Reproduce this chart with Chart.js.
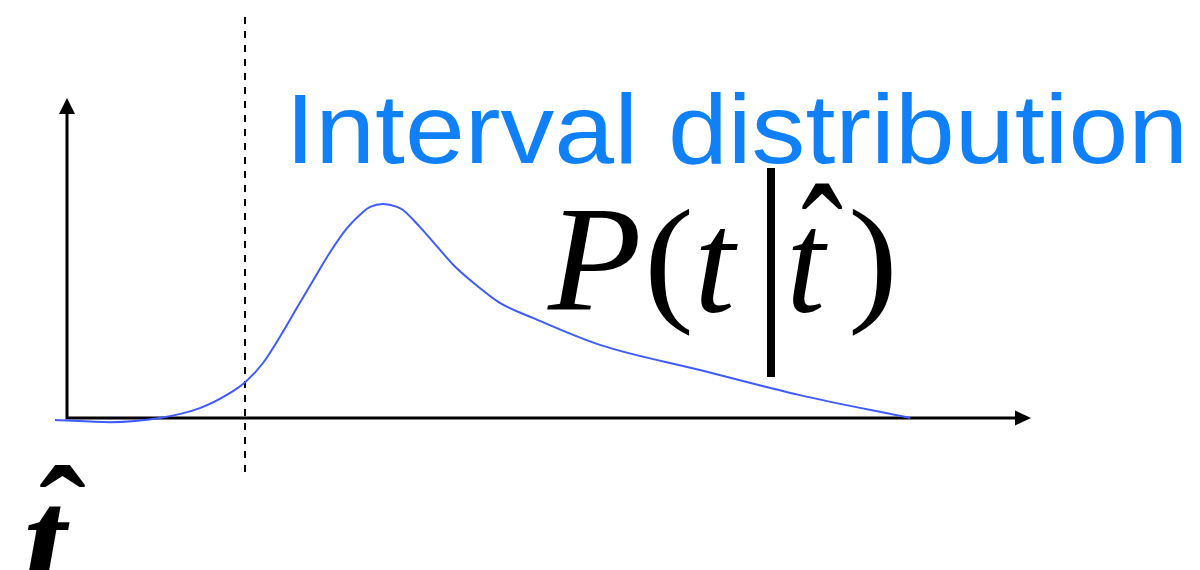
<!DOCTYPE html>
<html>
<head>
<meta charset="utf-8">
<title>Interval distribution</title>
<script src="https://cdn.jsdelivr.net/npm/chart.js@4.4.1/dist/chart.umd.min.js"></script>
<style>
  html, body { margin: 0; padding: 0; background: #fff; }
  canvas { display: block; }
</style>
</head>
<body>
<canvas id="intervalChart" width="1200" height="570"></canvas>
<script>
// time since last spike (x) and interval density P(t|t^) (y)
const timeValues = [-1.5, 5.4, 11.6, 16.6, 20.4, 22.3, 24.5, 26.6, 28.8, 30.8, 32.9, 35.0, 37.0, 37.9, 39.5,
                    41.25, 42.0, 44.1, 46.3, 48.3, 50.8, 54.1, 58.3, 66.6, 79.1, 91.6, 105.4];
const densityValues = [-0.006, -0.013, 0, 0.031, 0.079, 0.113, 0.173, 0.255, 0.349, 0.434, 0.522, 0.597, 0.648, 0.664, 0.673,
                       0.664, 0.654, 0.601, 0.538, 0.481, 0.425, 0.362, 0.314, 0.230, 0.151, 0.072, 0];
const lastSpike = 22.25;   // dashed marker (t hat)
const titleText = 'Interval distribution';

const curve = timeValues.map((t, i) => ({ x: t, y: densityValues[i] }));

// put a string's ink box into a rectangle (h omitted -> keep aspect)
function inkText(ctx, str, font, box) {
    ctx.font = font;
    const m = ctx.measureText(str);
    const iw = m.actualBoundingBoxLeft + m.actualBoundingBoxRight;
    const ih = m.actualBoundingBoxAscent + m.actualBoundingBoxDescent;
    const sx = box.w / iw;
    const sy = box.h ? box.h / ih : sx;
    ctx.save();
    ctx.translate(box.x, box.y);
    ctx.scale(sx, sy);
    ctx.fillText(str, m.actualBoundingBoxLeft, m.actualBoundingBoxAscent);
    ctx.restore();
}

const sketchPlugin = {
    id: 'sketch',
    beforeDatasetsDraw(chart) {
        const { ctx, scales: { x, y } } = chart;
        const x0 = x.getPixelForValue(0);
        const y0 = y.getPixelForValue(0);
        const xTip = x.getPixelForValue(120.5);
        const yTip = y.getPixelForValue(1.006);
        ctx.save();
        ctx.strokeStyle = '#000';
        ctx.fillStyle = '#000';
        ctx.lineWidth = 3;
        // axes
        ctx.beginPath();
        ctx.moveTo(x0, y0);
        ctx.lineTo(xTip - 14, y0);
        ctx.moveTo(x0, y0 + 1.5);
        ctx.lineTo(x0, yTip + 14);
        ctx.stroke();
        // arrow heads
        ctx.beginPath();
        ctx.moveTo(xTip, y0);
        ctx.lineTo(xTip - 16, y0 - 7.5);
        ctx.lineTo(xTip - 16, y0 + 7.5);
        ctx.closePath();
        ctx.moveTo(x0, yTip);
        ctx.lineTo(x0 - 8, yTip + 16);
        ctx.lineTo(x0 + 8, yTip + 16);
        ctx.closePath();
        ctx.fill();
        // dashed marker at last spike
        const xm = x.getPixelForValue(lastSpike);
        ctx.lineWidth = 2;
        ctx.setLineDash([7, 7]);
        ctx.beginPath();
        ctx.moveTo(xm, 17);
        ctx.lineTo(xm, 474);
        ctx.stroke();
        ctx.restore();
    },
    afterDraw(chart) {
        const ctx = chart.ctx;
        ctx.save();
        ctx.textAlign = 'left';
        ctx.textBaseline = 'alphabetic';
        // title
        ctx.fillStyle = '#0f80f8';
        inkText(ctx, titleText, '100px "Liberation Sans", Arial, sans-serif', { x: 295, y: 91, w: 887, h: 73 });
        // P(t | t^)
        ctx.fillStyle = '#000';
        const it = 'italic 150px "Liberation Serif", "Times New Roman", serif';
        const rm = '150px "Liberation Serif", "Times New Roman", serif';
        inkText(ctx, 'P', it, { x: 547, y: 210, w: 91, h: 100 });
        inkText(ctx, '(', rm, { x: 650, y: 208, w: 40, h: 129 });
        inkText(ctx, 't', it, { x: 700, y: 228, w: 38, h: 85 });
        ctx.fillRect(767, 168, 8, 209);
        inkText(ctx, 't', it, { x: 792, y: 228, w: 36, h: 85 });
        inkText(ctx, '\u02C6', rm, { x: 802, y: 183, w: 40, h: 26 });
        inkText(ctx, ')', rm, { x: 852, y: 208, w: 40, h: 129 });
        // t^ under the marker
        const bi = 'bold italic 160px "Liberation Serif", "Times New Roman", serif';
        inkText(ctx, 't', bi, { x: 27, y: 505, w: 43 });
        inkText(ctx, '\u02C6', 'bold 150px "Liberation Serif", "Times New Roman", serif', { x: 40, y: 465, w: 45, h: 22 });
        ctx.restore();
    }
};

const ctx = document.getElementById('intervalChart').getContext('2d');
const intervalChart = new Chart(ctx, {
    type: 'line',
    data: {
        datasets: [{
            label: 'P(t|t^)',
            data: curve,
            borderColor: '#3f5bff',
            borderWidth: 2,
            pointRadius: 0,
            cubicInterpolationMode: 'monotone',
            fill: false
        }]
    },
    options: {
        responsive: false,
        animation: false,
        layout: {
            padding: { left: 51, right: 165, top: 93.64, bottom: 145.64 }
        },
        scales: {
            x: { type: 'linear', min: -2, max: 121, display: false },
            y: { type: 'linear', min: -0.02, max: 1.02, display: false }
        },
        plugins: {
            legend: { display: false },
            tooltip: { enabled: false }
        }
    },
    plugins: [sketchPlugin]
});
</script>
</body>
</html>
